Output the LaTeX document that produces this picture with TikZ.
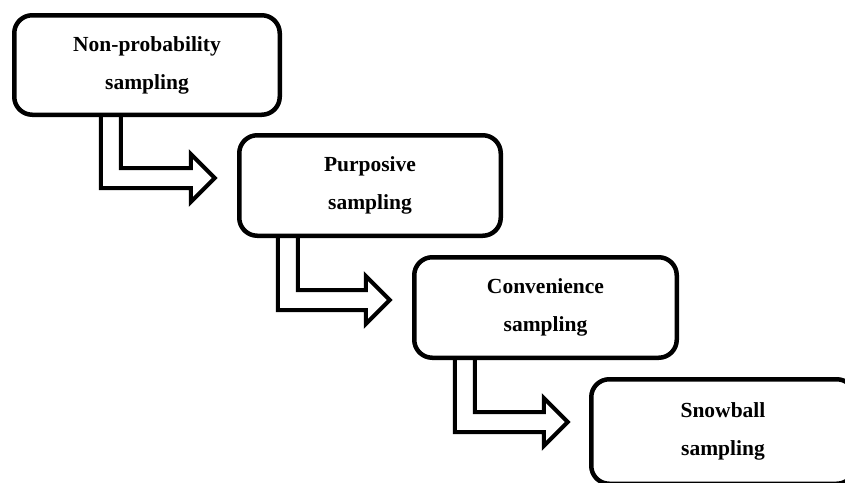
\documentclass[tikz,border=0pt]{standalone}
\usepackage{fontspec}
\setmainfont{Liberation Serif}
\usetikzlibrary{calc}
\tikzset{
  stagebox/.style={draw=black, line width=4.5pt, rounded corners=18pt, fill=white,
    align=center, inner sep=0pt, font=\bfseries\fontsize{21.5}{38}\selectfont},
  arrowline/.style={draw=black, line width=4pt, line join=miter}
}
% #1 source node, #2 x offset from its south west, #3 drop to tip level, #4 shaft-left to tip distance
\newcommand{\bentarrow}[4]{%
  \draw[arrowline] ($(#1.south west)+(#2,0)$) -- ++(0,#3+10) -- ++(#4-24,0) -- ++(0,14)
    -- ++(24,-24) -- ++(-24,-24) -- ++(0,14) -- ++(-#4+24+20,0) -- ++(0,-#3+10);
}
\begin{document}
\begin{tikzpicture}[x=1pt,y=-1pt]
\useasboundingbox (0,0) rectangle (845,482);
\clip (0,0) rectangle (845,482);
\node[stagebox, minimum width=265.5pt, minimum height=99.5pt] (b1) at (147,65) {Non-probability\\sampling};
\node[stagebox, minimum width=261.5pt, minimum height=100.5pt] (b2) at (370,185.5) {Purposive\\sampling};
\node[stagebox, minimum width=262.5pt, minimum height=100.5pt] (b3) at (545.5,307.5) {Convenience\\sampling};
\node[stagebox, minimum width=263.5pt, minimum height=104.5pt] (b4) at (723,431.5) {Snowball\\sampling};
\bentarrow{b1}{88.75}{61}{114}
\bentarrow{b2}{40.75}{62}{112}
\bentarrow{b3}{42.75}{62}{113}
\end{tikzpicture}
\end{document}
